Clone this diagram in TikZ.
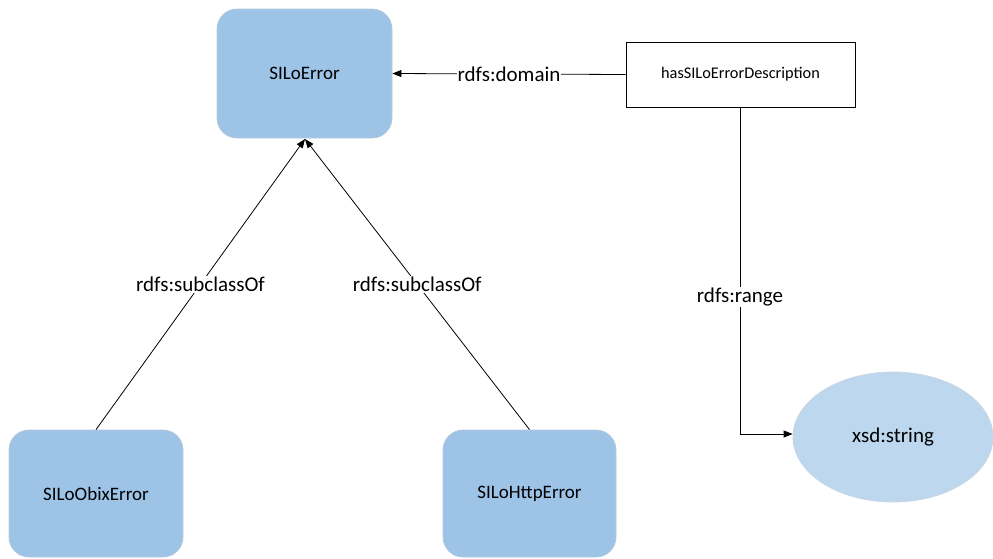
\documentclass[tikz,border=0pt]{standalone}
\usepackage{fontspec}
\setmainfont{Carlito}
\usetikzlibrary{arrows.meta,shapes.geometric}
\definecolor{classfill}{HTML}{9DC3E6}
\definecolor{classedge}{HTML}{B4C9DE}
\definecolor{typefill}{HTML}{BDD7EE}
\definecolor{typeedge}{HTML}{C9D6E3}
\tikzset{
  classbox/.style={rectangle, rounded corners=20pt, fill=classfill, draw=classedge,
    line width=0.8pt, minimum width=#1, minimum height=128pt, inner sep=0pt,
    font=\fontsize{19}{21}\selectfont},
  classbox/.default=174pt,
  propbox/.style={rectangle, draw=black, fill=white, line width=0.8pt,
    minimum width=229pt, minimum height=65pt, inner sep=0pt,
    font=\fontsize{16.3}{18}\selectfont},
  typeshape/.style={ellipse, fill=typefill, draw=typeedge, line width=0.8pt,
    minimum width=200pt, minimum height=130pt, inner sep=0pt,
    font=\fontsize{21}{23}\selectfont},
  rel/.style={draw=black, line width=0.8pt, -{Triangle[length=9pt,width=7pt]}},
  rellabel/.style={fill=white, inner sep=1pt, font=\fontsize{21}{23}\selectfont}
}
\begin{document}
\begin{tikzpicture}[x=1pt,y=-1pt]
\useasboundingbox (0,0) rectangle (993,558);
% classes
\node[classbox=175pt, minimum height=129pt] (err) at (304.5,73.5) {SILoError};
\node[classbox=174pt, minimum height=127pt] (obix) at (96,493.5) {SILoObixError};
\node[classbox=173pt, minimum height=127pt] (http) at (529.5,493.5) {SILoHttpError};
% property and datatype
\node[propbox] (desc) at (740.5,74.5) {hasSILoErrorDescription};
\node[typeshape] (str) at (893,437) {xsd:string};
% connectors
\coordinate (top) at (305,139);
\draw[rel] (desc.west) -- node[rellabel] {rdfs:domain} (err.east);
\draw[rel] (obix.north) -- node[rellabel, pos=0.5] {rdfs:subclassOf} (top);
\draw[rel] (http.north) -- node[rellabel, pos=0.5] {rdfs:subclassOf} (top);
\coordinate (corner) at (740,434);
\draw[rel] (desc.south -| corner) -- node[rellabel, pos=0.58] {rdfs:range} (corner) -- (str.west |- corner);
\end{tikzpicture}
\end{document}
